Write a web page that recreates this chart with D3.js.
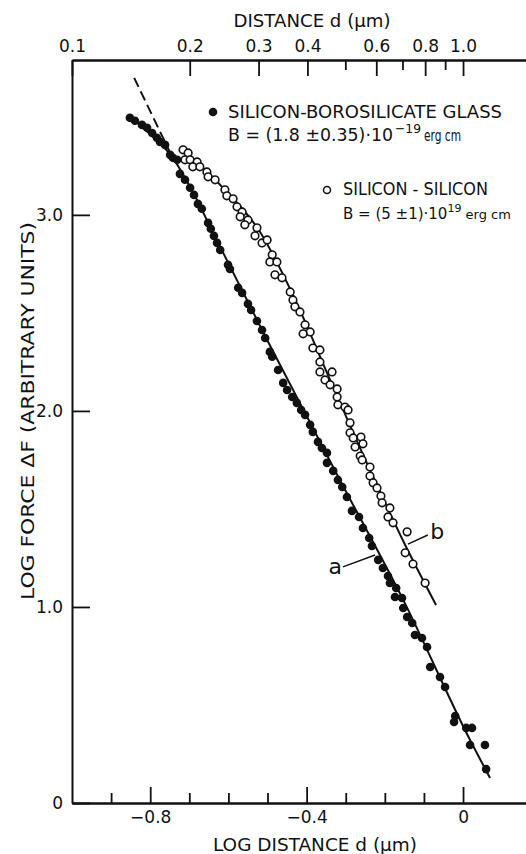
<!DOCTYPE html>
<html>
<head>
<meta charset="utf-8">
<script src="https://cdn.jsdelivr.net/npm/d3@7"></script>
<style>
    body { margin: 0; background: #fff; }
    text { font-family: "DejaVu Sans", sans-serif; fill: #111; }
</style>
</head>
<body>
<svg id="drawForce" width="526" height="854"></svg>
<script>
//Silicon - borosilicate glass (filled dots): log d, log F
let glassLogD = [-0.852, -0.839, -0.821, -0.808, -0.795, -0.783, -0.775, -0.762, -0.749, -0.742,
    -0.731, -0.724, -0.711, -0.698, -0.688, -0.678, -0.668, -0.652, -0.645, -0.637,
    -0.629, -0.621, -0.601, -0.596, -0.575, -0.565, -0.550, -0.542, -0.527, -0.514,
    -0.506, -0.494, -0.488, -0.473, -0.460, -0.450, -0.437, -0.425, -0.414, -0.404,
    -0.391, -0.384, -0.371, -0.361, -0.348, -0.348, -0.332, -0.320, -0.309, -0.297,
    -0.284, -0.266, -0.256, -0.240, -0.233, -0.217, -0.205, -0.192, -0.187, -0.171,
    -0.174, -0.156, -0.153, -0.143, -0.130, -0.123, -0.105, -0.092, -0.084, -0.059,
    -0.046, -0.020, -0.023, 0.008, 0.023, 0.018, 0.056, 0.059];
let glassLogF = [3.495, 3.480, 3.459, 3.444, 3.418, 3.393, 3.372, 3.357, 3.306, 3.291,
    3.281, 3.209, 3.179, 3.138, 3.102, 3.056, 3.031, 2.959, 2.929, 2.893,
    2.857, 2.821, 2.745, 2.724, 2.628, 2.602, 2.546, 2.515, 2.459, 2.413,
    2.372, 2.301, 2.276, 2.209, 2.143, 2.107, 2.071, 2.041, 2.005, 1.980,
    1.929, 1.893, 1.842, 1.811, 1.786, 1.735, 1.694, 1.648, 1.612, 1.561,
    1.490, 1.459, 1.403, 1.352, 1.311, 1.240, 1.199, 1.158, 1.122, 1.097,
    1.051, 1.046, 0.995, 0.949, 0.918, 0.857, 0.842, 0.796, 0.694, 0.643,
    0.592, 0.444, 0.413, 0.383, 0.383, 0.296, 0.296, 0.173];

//Silicon - silicon (open circles): log d, log F
let siliconLogD = [-0.716, -0.703, -0.711, -0.698, -0.680, -0.691, -0.673, -0.655, -0.652, -0.634,
    -0.609, -0.604, -0.588, -0.578, -0.565, -0.570, -0.550, -0.558, -0.527, -0.532,
    -0.514, -0.501, -0.488, -0.494, -0.476, -0.481, -0.463, -0.442, -0.435, -0.430,
    -0.417, -0.404, -0.391, -0.409, -0.384, -0.366, -0.366, -0.366, -0.335, -0.353,
    -0.340, -0.322, -0.322, -0.320, -0.302, -0.294, -0.289, -0.289, -0.281, -0.261,
    -0.256, -0.276, -0.263, -0.258, -0.238, -0.238, -0.230, -0.220, -0.210, -0.207,
    -0.187, -0.192, -0.179, -0.143, -0.148, -0.128, -0.097];
let siliconLogF = [3.332, 3.316, 3.281, 3.281, 3.270, 3.245, 3.245, 3.219, 3.194, 3.179,
    3.128, 3.097, 3.082, 3.041, 3.015, 2.990, 2.974, 2.949, 2.934, 2.893,
    2.857, 2.872, 2.796, 2.760, 2.760, 2.694, 2.679, 2.607, 2.566, 2.531,
    2.505, 2.439, 2.403, 2.393, 2.321, 2.311, 2.250, 2.199, 2.199, 2.158,
    2.133, 2.112, 2.071, 2.031, 2.020, 2.005, 1.939, 1.888, 1.862, 1.867,
    1.832, 1.816, 1.770, 1.750, 1.714, 1.668, 1.633, 1.607, 1.566, 1.531,
    1.505, 1.459, 1.429, 1.383, 1.276, 1.219, 1.122];

//Fitted curves
let glassFitD = [-0.857, -0.801, -0.744, -0.698, -0.639, -0.501, -0.315, -0.153, 0.018, 0.069];
let glassFitF = [3.510, 3.413, 3.296, 3.143, 2.908, 2.362, 1.648, 1.036, 0.321, 0.128];
let glassDashD = [-0.841, -0.744];
let glassDashF = [3.699, 3.296];
let siliconFitD = [-0.716, -0.614, -0.519, -0.435, -0.340, -0.238, -0.148, -0.069];
let siliconFitF = [3.332, 3.138, 2.913, 2.592, 2.158, 1.699, 1.316, 1.010];

//Tick values
let logMajor = [-0.8, -0.4, 0];
let logMinor = [-0.9, -0.7, -0.6, -0.5, -0.3, -0.2, -0.1];
let distMajor = [0.1, 0.2, 0.3, 0.4, 0.6, 0.8, 1.0];
let distMinor = [0.5, 0.7, 0.9];
let forceTicks = [0, 1, 2, 3];

//Annotation labels a / b: [label, text d, text F, line d1, F1, d2, F2]
let curveLabels = [
    ["a", -0.327, 1.168, -0.307, 1.204, -0.225, 1.265],
    ["b", -0.066, 1.347, -0.090, 1.367, -0.141, 1.321]
];

let svg = d3.select("#drawForce");
let ink = "#111";

//Set scales
let x = d3.scaleLinear().domain([-1, 0.161]).range([72, 526]);
let xTop = d3.scaleLog().domain([0.1, Math.pow(10, 0.161)]).range([72, 526]);
let y = d3.scaleLinear().domain([0, 3.79]).range([803, 60]);

//Bottom axis (ticks inward)
svg.append("g").attr("transform", "translate(0,803)")
    .call(d3.axisBottom(x).tickValues(logMinor).tickSize(-10).tickSizeOuter(0).tickFormat(""));
svg.append("g").attr("transform", "translate(0,803)")
    .call(d3.axisBottom(x).tickValues(logMajor).tickSize(-16).tickSizeOuter(0).tickPadding(8)
        .tickFormat(d => d === 0 ? "0" : "\u2212" + Math.abs(d).toFixed(1)));

//Top axis: distance in micrometres
svg.append("g").attr("transform", "translate(0,60)")
    .call(d3.axisTop(xTop).tickValues(distMinor).tickSize(-10).tickSizeOuter(0).tickFormat(""));
svg.append("g").attr("transform", "translate(0,60)")
    .call(d3.axisTop(xTop).tickValues(distMajor).tickSize(-16).tickSizeOuter(0).tickPadding(8)
        .tickFormat(d => d.toFixed(1)));

//Left axis
svg.append("g").attr("transform", "translate(72,0)")
    .call(d3.axisLeft(y).tickValues(forceTicks).tickSize(-18).tickSizeOuter(0).tickPadding(9)
        .tickFormat(d => d === 0 ? "0" : d.toFixed(1)));

svg.selectAll(".domain").attr("stroke", ink).attr("stroke-width", 2);
svg.selectAll(".tick line").attr("stroke", ink).attr("stroke-width", 1.8);
svg.selectAll(".tick text").attr("font-size", 17).attr("fill", ink)
    .style("font-family", "'DejaVu Sans', sans-serif");

//Axis titles
svg.append("text").attr("x", 312).attr("y", 27).attr("text-anchor", "middle")
    .attr("font-size", 17).attr("textLength", 157).attr("lengthAdjust", "spacingAndGlyphs")
    .text("DISTANCE d (\u03bcm)");
svg.append("text").attr("x", 315).attr("y", 851).attr("text-anchor", "middle")
    .attr("font-size", 17).attr("textLength", 204).attr("lengthAdjust", "spacingAndGlyphs")
    .text("LOG DISTANCE d (\u03bcm)");
svg.append("text").attr("transform", "translate(34,411) rotate(-90)").attr("text-anchor", "middle")
    .attr("font-size", 17).attr("textLength", 378).attr("lengthAdjust", "spacingAndGlyphs")
    .text("LOG FORCE \u0394F (ARBITRARY UNITS)");

//Draw fitted curves
let line = d3.line().x(d => x(d[0])).y(d => y(d[1])).curve(d3.curveMonotoneX);
svg.append("path").datum(d3.zip(glassFitD, glassFitF))
    .attr("fill", "none").attr("stroke", ink).attr("stroke-width", 2).attr("d", line);
svg.append("path").datum(d3.zip(glassDashD, glassDashF))
    .attr("fill", "none").attr("stroke", ink).attr("stroke-width", 2)
    .attr("stroke-dasharray", "10,5").attr("d", line);
svg.append("path").datum(d3.zip(siliconFitD, siliconFitF))
    .attr("fill", "none").attr("stroke", ink).attr("stroke-width", 2).attr("d", line);

//Draw points
svg.append("g").selectAll("circle")
    .data(d3.zip(siliconLogD, siliconLogF))
    .enter().append("circle")
    .attr("cx", d => x(d[0])).attr("cy", d => y(d[1])).attr("r", 3.8)
    .attr("fill", "#fff").attr("stroke", ink).attr("stroke-width", 1.6);
svg.append("g").selectAll("circle")
    .data(d3.zip(glassLogD, glassLogF))
    .enter().append("circle")
    .attr("cx", d => x(d[0])).attr("cy", d => y(d[1])).attr("r", 4.3)
    .attr("fill", ink);

//Curve labels a and b
curveLabels.forEach(c => {
    svg.append("line").attr("x1", x(c[3])).attr("y1", y(c[4])).attr("x2", x(c[5])).attr("y2", y(c[6]))
        .attr("stroke", ink).attr("stroke-width", 1.4);
    svg.append("text").attr("x", x(c[1])).attr("y", y(c[2])).attr("text-anchor", "middle")
        .attr("font-size", 22).text(c[0]);
});

//Legend text pieces: text, x, baseline, width, font size
function legendText(t, px, py, w, fs) {
    svg.append("text").attr("x", px).attr("y", py).attr("font-size", fs)
        .attr("textLength", w).attr("lengthAdjust", "spacingAndGlyphs").text(t);
}

svg.append("circle").attr("cx", 213).attr("cy", 112).attr("r", 4.3).attr("fill", ink);
legendText("SILICON-BOROSILICATE GLASS", 228, 118, 274, 17);
legendText("B = (1.8 \u00b10.35)\u00b710", 228, 141, 165, 17);
legendText("\u221219", 395, 133, 26, 13);
legendText("erg cm", 424, 141, 37, 16);

svg.append("circle").attr("cx", 327).attr("cy", 190).attr("r", 3.5)
    .attr("fill", "#fff").attr("stroke", ink).attr("stroke-width", 1.5);
legendText("SILICON - SILICON", 343, 195, 145, 17);
let b2 = svg.append("text").attr("x", 343).attr("y", 219).attr("font-size", 15);
b2.append("tspan").text("B = (5 \u00b11)\u00b710");
b2.append("tspan").attr("dy", -7).attr("font-size", 11).text("19");
b2.append("tspan").attr("dy", 7).attr("font-size", 13).text(" erg cm");
</script>
</body>
</html>
